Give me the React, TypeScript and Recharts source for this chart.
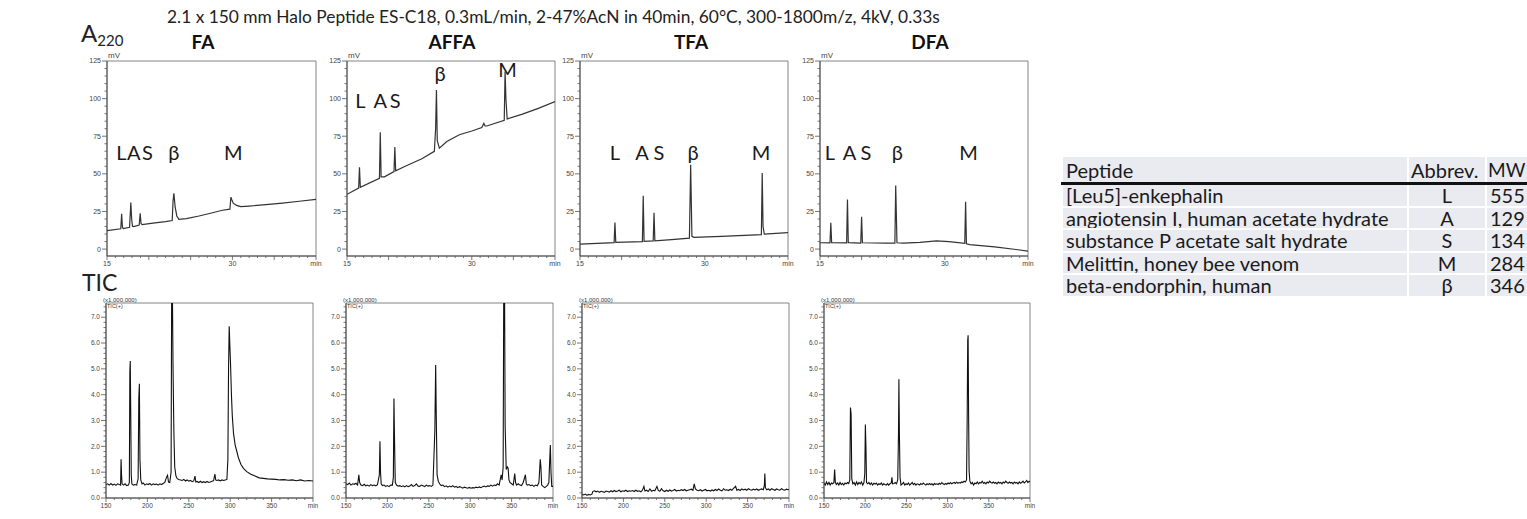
import React from 'react';
import { LineChart, Line, XAxis, YAxis, ReferenceArea, ReferenceDot } from 'recharts';

type Pt = [number, number];

// ---------- A220 UV traces (time in min, signal in mV) ----------
const faUv: Pt[] = [
  [15, 12.2], [16.65, 13.5], [16.75, 23.5], [16.85, 14.5], [16.95, 13.7], [17.7, 14.5], [17.85, 31], [17.95, 20],
  [18.05, 15.2], [18.2, 15.0], [18.85, 16.0], [18.97, 23.8], [19.07, 17.0], [19.2, 16.2], [20.5, 17.2], [22.0, 18.3],
  [22.8, 19.0], [22.9, 32], [23.0, 37], [23.15, 28], [23.35, 22], [23.6, 19.8], [24.5, 20.3], [26.0, 22.0],
  [27.5, 24.0], [28.8, 25.8], [29.7, 26.5], [29.82, 34.5], [29.92, 33], [30.1, 30.5], [30.5, 29], [31.0, 28.2],
  [32.0, 28.6], [34.0, 29.5], [36.0, 30.6], [38.0, 31.8], [40.0, 33.0],
];
const affaUv: Pt[] = [
  [15, 36.4], [16.4, 40.5], [16.5, 54.3], [16.6, 41], [18.9, 47], [19.0, 77.6], [19.1, 48], [19.5, 48],
  [20.65, 51.5], [20.75, 67.8], [20.85, 52], [22.0, 55], [24.0, 60], [25.5, 65], [25.65, 80], [25.75, 105.7],
  [25.85, 72], [26.1, 67], [27.0, 71.5], [28.5, 76], [30.0, 78.5], [31.2, 80.8], [31.45, 83.5], [31.6, 81.8],
  [31.8, 81.8], [33.9, 85.5], [34.0, 118], [34.1, 100], [34.25, 86.5], [36.0, 89.5], [38.0, 93.5], [40.0, 98],
];
const tfaUv: Pt[] = [
  [15, 3.3], [19.1, 4.3], [19.2, 17.7], [19.3, 4.4], [22.5, 5.0], [22.6, 35.5], [22.7, 5.1], [23.8, 5.4],
  [23.9, 24.2], [24.0, 5.5], [26.0, 6.3], [28.15, 7.3], [28.3, 56], [28.45, 8.5], [28.7, 7.8], [32.0, 8.4],
  [36.8, 9.6], [36.9, 50.5], [37.0, 15], [37.15, 9.9], [40, 10.9],
];
const dfaUv: Pt[] = [
  [15, 4.2], [16.2, 4.1], [16.3, 17.5], [16.4, 4.2], [18.2, 4.1], [18.3, 33], [18.4, 4.3], [19.9, 4.0],
  [20.0, 21.5], [20.1, 4.2], [23.0, 4.0], [24.0, 4.0], [24.1, 42.3], [24.25, 4.2], [25.0, 3.9], [27.0, 4.5],
  [29.0, 5.4], [30.5, 5.0], [32.4, 3.8], [32.5, 31.5], [32.6, 3.5], [33.0, 3.0], [36.0, 1.5], [40.0, -1.3],
];

// ---------- TIC traces (x0.1 min, intensity x1,000,000) ----------
const faTic: Pt[] = [
  [150, 0.52], [152, 0.55], [154, 0.5], [156, 0.56], [158, 0.5], [160, 0.54], [162, 0.49], [164, 0.55], [166, 0.52],
  [167.6, 0.5], [168.2, 1.5], [168.8, 0.9], [169.4, 0.55], [171, 0.5], [173, 0.55], [175, 0.48], [177, 0.5],
  [178.2, 0.6], [178.8, 4.9], [179.3, 5.3], [179.9, 3.3], [180.5, 0.9], [181.2, 0.55], [183, 0.5], [185, 0.52],
  [187, 0.5], [188.8, 0.75], [189.6, 3.85], [190.3, 4.42], [191, 1.5], [192, 0.7], [193.5, 0.55], [195, 0.58],
  [197, 0.5], [199, 0.55], [201, 0.52], [203, 0.56], [205, 0.5], [207, 0.55], [209, 0.52], [211, 0.54], [213, 0.5],
  [215, 0.55], [217, 0.52], [219, 0.56], [221, 0.6], [223, 0.8], [224.3, 0.88], [225.5, 0.62], [227, 0.6],
  [228.6, 1.0], [229.3, 8], [230.2, 8], [231, 4.9], [232, 2.5], [233, 1.2], [234.5, 0.85], [236, 0.75], [238, 0.72],
  [240, 0.7], [242, 0.68], [244, 0.72], [246, 0.66], [248, 0.7], [250, 0.65], [252, 0.68], [254, 0.63], [256, 0.66],
  [257.5, 0.85], [258.5, 0.62], [260, 0.64], [262, 0.6], [264, 0.65], [266, 0.6], [268, 0.63], [270, 0.6], [272, 0.64],
  [274, 0.6], [276, 0.62], [278, 0.65], [280, 0.67], [281.5, 0.93], [282.5, 0.7], [284, 0.68], [286, 0.7], [288, 0.66],
  [290, 0.7], [292, 0.68], [294, 0.7], [296, 0.72], [297.2, 1.5], [298, 5.0], [298.8, 6.65], [299.6, 5.9],
  [300.4, 5.2], [301.5, 4.0], [302.5, 3.2], [304, 2.5], [306, 2.05], [308, 1.8], [310, 1.55], [313, 1.3], [316, 1.15],
  [320, 1.02], [325, 0.92], [330, 0.85], [335, 0.78], [340, 0.76], [345, 0.74], [350, 0.73], [355, 0.72], [360, 0.7],
  [365, 0.71], [370, 0.69], [375, 0.7], [380, 0.67], [385, 0.7], [390, 0.66], [395, 0.68], [400, 0.66],
];
const affaTic: Pt[] = [
  [150, 0.55], [152, 0.52], [154, 0.58], [156, 0.5], [158, 0.55], [160, 0.53], [162, 0.57], [164, 0.5], [165.5, 0.9],
  [166.5, 0.6], [168, 0.5], [170, 0.48], [172, 0.53], [174, 0.47], [176, 0.5], [178, 0.46], [180, 0.52], [182, 0.48],
  [184, 0.5], [186, 0.47], [188, 0.52], [190.3, 0.9], [191, 2.2], [191.7, 1.0], [192.5, 0.55], [194, 0.48], [196, 0.5],
  [198, 0.45], [200, 0.48], [202, 0.44], [204, 0.5], [206, 0.5], [207.2, 0.8], [207.9, 3.85], [208.6, 2.3],
  [209.5, 0.6], [211, 0.5], [213, 0.46], [215, 0.48], [217, 0.44], [219, 0.47], [221, 0.43], [223, 0.48], [225, 0.44],
  [227, 0.46], [229, 0.52], [231, 0.45], [233, 0.48], [235, 0.55], [237, 0.46], [239, 0.45], [241, 0.5], [243, 0.47],
  [245, 0.44], [247, 0.5], [249, 0.46], [251, 0.48], [253, 0.45], [255, 0.5], [257.3, 2.6], [258.3, 5.15], [259, 3.2],
  [260, 0.9], [261.5, 0.65], [263, 0.55], [265, 0.48], [267, 0.5], [269, 0.44], [271, 0.47], [273, 0.42], [275, 0.46],
  [277, 0.43], [279, 0.48], [281, 0.42], [283, 0.45], [285, 0.4], [287, 0.44], [289, 0.42], [291, 0.38], [293, 0.42],
  [295, 0.4], [297, 0.38], [299, 0.41], [301, 0.38], [303, 0.4], [305, 0.39], [307, 0.42], [309, 0.4], [311, 0.43],
  [313, 0.4], [315, 0.44], [317, 0.46], [319, 0.43], [321, 0.47], [323, 0.45], [325, 0.5], [327, 0.46], [329, 0.5],
  [331, 0.48], [333, 0.55], [335, 0.5], [337.4, 0.9], [338.5, 0.7], [339.8, 1.2], [340.5, 8], [341.5, 8], [342.2, 2.8],
  [343.5, 1.1], [344.8, 1.2], [345.8, 1.15], [346.8, 0.7], [348, 0.6], [350, 0.55], [352, 0.5], [353.8, 0.95],
  [354.8, 0.6], [356, 0.5], [358, 0.55], [360, 0.5], [362, 0.48], [364, 0.6], [366.7, 0.9], [367.7, 0.55], [369, 0.5],
  [371, 0.52], [373, 0.48], [375, 0.5], [377, 0.45], [379, 0.5], [381, 0.47], [383, 0.6], [384.6, 1.5], [385.4, 1.2],
  [386.3, 0.5], [388, 0.45], [390, 0.4], [392, 0.45], [393.5, 0.5], [395, 0.6], [396.2, 1.6], [396.8, 2.05],
  [397.6, 1.0], [398.5, 0.45], [400, 0.45],
];
const tfaTic: Pt[] = [
  [150, 0.15], [152, 0.12], [154, 0.15], [156, 0.1], [158, 0.14], [160, 0.12], [162, 0.15], [163, 0.25], [165, 0.28],
  [167, 0.24], [169, 0.27], [171, 0.22], [173, 0.26], [175, 0.24], [177, 0.22], [179, 0.27], [181, 0.25], [183, 0.23],
  [185, 0.28], [187, 0.24], [189, 0.29], [191, 0.25], [193, 0.27], [195, 0.3], [197, 0.24], [199, 0.28], [201, 0.26],
  [203, 0.3], [205, 0.25], [207, 0.28], [209, 0.26], [211, 0.29], [213, 0.25], [215, 0.3], [217, 0.26], [219, 0.28],
  [221, 0.24], [223, 0.3], [224.8, 0.45], [226, 0.27], [228, 0.3], [230, 0.25], [232, 0.35], [234, 0.26], [236, 0.3],
  [238, 0.28], [240.5, 0.45], [242, 0.3], [244, 0.26], [246, 0.36], [248, 0.28], [250, 0.25], [252, 0.3], [254, 0.26],
  [256, 0.31], [258, 0.27], [260, 0.29], [262, 0.33], [264, 0.27], [266, 0.3], [268, 0.28], [270, 0.32], [272, 0.29],
  [274, 0.33], [276, 0.28], [278, 0.3], [280, 0.32], [282, 0.34], [284, 0.3], [285.5, 0.55], [287, 0.35], [289, 0.3],
  [291, 0.28], [293, 0.32], [295, 0.27], [297, 0.3], [299, 0.33], [301, 0.28], [303, 0.3], [305, 0.27], [307, 0.31],
  [309, 0.28], [311, 0.33], [313, 0.29], [315, 0.35], [317, 0.3], [319, 0.28], [321, 0.36], [323, 0.3], [325, 0.32],
  [327, 0.29], [329, 0.34], [331, 0.3], [333, 0.37], [335.5, 0.45], [337, 0.3], [339, 0.33], [341, 0.29], [343, 0.35],
  [345, 0.31], [347, 0.34], [349, 0.3], [351, 0.36], [353, 0.32], [355, 0.3], [357, 0.34], [359, 0.31], [361, 0.35],
  [363, 0.3], [365, 0.33], [367, 0.35], [369, 0.32], [370.3, 0.5], [370.8, 0.95], [371.5, 0.4], [373, 0.32],
  [375, 0.35], [377, 0.3], [379, 0.36], [381, 0.33], [383, 0.3], [385, 0.35], [387, 0.32], [389, 0.3], [391, 0.36],
  [393, 0.32], [395, 0.3], [397, 0.34], [399, 0.32], [400, 0.33],
];
const dfaTic: Pt[] = [
  [150, 0.58], [151.5, 0.5], [153, 0.62], [154.5, 0.52], [156, 0.6], [157.5, 0.5], [159, 0.58], [160.5, 0.55],
  [162, 0.6], [162.9, 1.1], [163.8, 0.6], [165, 0.52], [166.5, 0.58], [168, 0.5], [169.5, 0.6], [171, 0.52],
  [172.5, 0.57], [174, 0.5], [175.5, 0.58], [177, 0.55], [178.5, 0.6], [180, 0.56], [181.3, 0.7], [182.1, 3.5],
  [182.9, 3.25], [183.7, 0.75], [185, 0.55], [186.5, 0.6], [188, 0.5], [189.5, 0.62], [191, 0.52], [192.5, 0.6],
  [194, 0.55], [195.5, 0.62], [197, 0.5], [198.5, 0.6], [199.5, 0.95], [200.2, 2.85], [200.9, 2.0], [201.6, 0.6],
  [203, 0.55], [204.5, 0.6], [206, 0.52], [207.5, 0.58], [209, 0.5], [210.5, 0.57], [212, 0.54], [213.5, 0.58],
  [215, 0.5], [216.5, 0.55], [218, 0.52], [219.5, 0.58], [221, 0.5], [222.5, 0.55], [224, 0.52], [225.5, 0.5],
  [227, 0.56], [228.5, 0.5], [230, 0.55], [231.6, 0.58], [232.4, 0.8], [233.2, 0.55], [235, 0.56], [236.5, 0.6],
  [238, 0.55], [239.5, 0.7], [240.4, 2.5], [240.9, 4.6], [241.5, 2.5], [242.3, 0.8], [243.5, 0.5], [245, 0.55],
  [246.5, 0.6], [248, 0.5], [249.5, 0.55], [251, 0.52], [252.5, 0.58], [254, 0.5], [255.5, 0.55], [257, 0.6],
  [258.5, 0.52], [260, 0.57], [261.5, 0.5], [263, 0.55], [264.5, 0.53], [266, 0.5], [267.5, 0.56], [269, 0.52],
  [270.5, 0.58], [272, 0.54], [273.5, 0.5], [275, 0.55], [276.5, 0.52], [278, 0.56], [279.5, 0.52], [281, 0.55],
  [282.5, 0.5], [284, 0.56], [285.5, 0.53], [287, 0.55], [288.5, 0.52], [290, 0.57], [291.5, 0.53], [293, 0.6],
  [294.5, 0.55], [296, 0.52], [297.5, 0.56], [299, 0.53], [300.5, 0.58], [302, 0.55], [303.5, 0.6], [305, 0.55],
  [306.5, 0.58], [308, 0.6], [309.5, 0.56], [311, 0.62], [312.5, 0.57], [314, 0.6], [315.5, 0.58], [317, 0.62],
  [318.5, 0.6], [320, 0.65], [321.5, 0.62], [323, 0.7], [323.8, 3.2], [324.4, 6.1], [324.9, 6.3], [325.5, 3.2],
  [326.1, 1.05], [327, 0.65], [328.5, 0.55], [330, 0.6], [331.5, 0.5], [333, 0.58], [334.5, 0.55], [336, 0.62],
  [337.5, 0.55], [339, 0.6], [340.5, 0.58], [342, 0.65], [343.5, 0.57], [345, 0.6], [346.5, 0.55], [348, 0.62],
  [349.5, 0.58], [351, 0.65], [352.5, 0.6], [354, 0.58], [355.5, 0.62], [357, 0.57], [358.5, 0.6], [360, 0.55],
  [361.5, 0.62], [363, 0.58], [364.5, 0.6], [366, 0.55], [367.5, 0.62], [369, 0.58], [370.5, 0.65], [372, 0.6],
  [373.5, 0.57], [375, 0.62], [376.5, 0.58], [378, 0.6], [379.5, 0.55], [381, 0.62], [382.5, 0.58], [384, 0.6],
  [385.5, 0.55], [387, 0.62], [388.5, 0.57], [390, 0.6], [391.5, 0.65], [393, 0.58], [394.5, 0.62], [396, 0.68],
  [397.5, 0.6], [399, 0.65], [400, 0.62],
];

// ---------- ticks ----------
const uvXTicks = [15, 16, 17, 18, 19, 20, 21, 22, 23, 24, 25, 26, 27, 28, 29, 30, 31, 32, 33, 34, 35, 36, 37, 38, 39, 40];
const uvXLabels: Record<number, string> = { 15: '15', 30: '30', 40: 'min' };
const uvYTicks = [0, 5, 10, 15, 20, 25, 30, 35, 40, 45, 50, 55, 60, 65, 70, 75, 80, 85, 90, 95, 100, 105, 110, 115, 120, 125];
const uvYLabels: Record<number, string> = { 0: '0', 25: '25', 50: '50', 75: '75', 100: '100', 125: '125' };
const ticXTicks = [150, 160, 170, 180, 190, 200, 210, 220, 230, 240, 250, 260, 270, 280, 290, 300, 310, 320, 330, 340, 350, 360, 370, 380, 390, 400];
const ticXLabels: Record<number, string> = { 150: '150', 200: '200', 250: '250', 300: '300', 350: '350', 400: 'min' };
const ticYTicks = [0, 0.2, 0.4, 0.6, 0.8, 1, 1.2, 1.4, 1.6, 1.8, 2, 2.2, 2.4, 2.6, 2.8, 3, 3.2, 3.4, 3.6, 3.8, 4, 4.2, 4.4, 4.6, 4.8, 5, 5.2, 5.4, 5.6, 5.8, 6, 6.2, 6.4, 6.6, 6.8, 7, 7.2, 7.4];
const ticYLabels: Record<number, string> = { 0: '0.0', 1: '1.0', 2: '2.0', 3: '3.0', 4: '4.0', 5: '5.0', 6: '6.0', 7: '7.0' };

// ---------- peak annotations ----------
type PeakLabel = { t: number; v: number; s: string };
const faPeaks: PeakLabel[] = [
  { t: 16.72, v: 64, s: 'L' }, { t: 18.2, v: 64, s: 'A' }, { t: 19.85, v: 64, s: 'S' }, { t: 23.0, v: 64, s: 'β' }, { t: 30.1, v: 64, s: 'M' },
];
const affaPeaks: PeakLabel[] = [
  { t: 16.6, v: 98.4, s: 'L' }, { t: 19.0, v: 98.4, s: 'A' }, { t: 20.8, v: 98.4, s: 'S' }, { t: 26.2, v: 116.3, s: 'β' }, { t: 34.3, v: 119, s: 'M' },
];
const tfaPeaks: PeakLabel[] = [
  { t: 19.2, v: 64, s: 'L' }, { t: 22.45, v: 64, s: 'A' }, { t: 24.5, v: 64, s: 'S' }, { t: 28.6, v: 64, s: 'β' }, { t: 36.76, v: 64, s: 'M' },
];
const dfaPeaks: PeakLabel[] = [
  { t: 16.2, v: 64, s: 'L' }, { t: 18.56, v: 64, s: 'A' }, { t: 20.52, v: 64, s: 'S' }, { t: 24.3, v: 64, s: 'β' }, { t: 32.84, v: 64, s: 'M' },
];

const modifiers = ['FA', 'AFFA', 'TFA', 'DFA'];
const titleText = '2.1 x 150 mm Halo Peptide ES-C18, 0.3mL/min, 2-47%AcN in 40min, 60°C, 300-1800m/z, 4kV, 0.33s';

// ---------- table ----------
const tableHeader = ['Peptide', 'Abbrev.', 'MW'];
const peptideNames = ['[Leu5]-enkephalin', 'angiotensin I, human acetate hydrate', 'substance P acetate salt hydrate', 'Melittin,  honey bee venom', 'beta-endorphin, human'];
const peptideAbbrevs = ['L', 'A', 'S', 'M', 'β'];
const peptideMw = ['555', '129', '134', '284', '346'];

const CAL = "Lato, 'Open Sans', sans-serif";
const AX = "'Liberation Sans', Arial, sans-serif";
const AX_COLOR = '#555';

const isMajor = (v: number, every: number) => Math.abs(v / every - Math.round(v / every)) < 1e-6;

function makeXTick(labels: Record<number, string>, every: number, fs: number) {
  return (props: any) => {
    const { x, y, payload } = props;
    const v = payload.value as number;
    const major = isMajor(v, every);
    const lbl = labels[v];
    return (
      <g>
        <line x1={x} x2={x} y1={y} y2={y + (major ? 4 : 2)} stroke={AX_COLOR} strokeWidth={0.8} />
        {lbl !== undefined && (
          <text x={x} y={y + 5} dy="0.71em" textAnchor="middle" fontSize={fs} fill="#444" fontFamily={AX}>{lbl}</text>
        )}
      </g>
    );
  };
}
function makeYTick(labels: Record<number, string>, every: number, fs: number) {
  return (props: any) => {
    const { x, y, payload } = props;
    const v = payload.value as number;
    const major = isMajor(v, every);
    const key = Object.keys(labels).find((k) => Math.abs(Number(k) - v) < 1e-6);
    const lbl = key !== undefined ? labels[Number(key)] : undefined;
    return (
      <g>
        <line x1={x} x2={x - (major ? 5 : 2.5)} y1={y} y2={y} stroke={AX_COLOR} strokeWidth={0.8} />
        {lbl !== undefined && (
          <text x={x - 6} y={y} dy="0.35em" textAnchor="end" fontSize={fs} fill="#444" fontFamily={AX}>{lbl}</text>
        )}
      </g>
    );
  };
}

type PanelProps = {
  left: number; top: number; plotW: number; plotH: number; pts: Pt[];
  xDomain: [number, number]; yDomain: [number, number];
  xTicks: number[]; yTicks: number[]; xLabels: Record<number, string>; yLabels: Record<number, string>;
  xEvery: number; yEvery: number; fs: number; peaks?: PeakLabel[]; tic?: boolean;
};

function Panel(p: PanelProps) {
  const data = p.pts.map(([t, v]) => ({ t, v }));
  const W = 40 + p.plotW + 10;
  const H = 20 + p.plotH + 20;
  return (
    <div style={{ position: 'absolute', left: p.left - 40, top: p.top - 20, width: W, height: H }}>
      <LineChart width={W} height={H} data={data} margin={{ top: 20, right: 10, bottom: 0, left: 10 }}>
        <XAxis dataKey="t" type="number" domain={p.xDomain} ticks={p.xTicks} interval={0} tickSize={0} tickMargin={0}
          tickLine={false} height={20} axisLine={{ stroke: '#444', strokeWidth: 0.9 }} tick={makeXTick(p.xLabels, p.xEvery, p.fs)} allowDataOverflow />
        <YAxis type="number" domain={p.yDomain} ticks={p.yTicks} interval={0} tickSize={0} tickMargin={0}
          tickLine={false} width={30} axisLine={{ stroke: '#444', strokeWidth: 0.9 }} tick={makeYTick(p.yLabels, p.yEvery, p.fs)} allowDataOverflow />
        <ReferenceArea x1={p.xDomain[0]} x2={p.xDomain[1]} y1={p.yDomain[0]} y2={p.yDomain[1]} fill="none" stroke="#777" strokeWidth={0.9} fillOpacity={0} />
        <Line type="linear" dataKey="v" stroke={p.tic ? '#111' : '#333'} strokeWidth={p.tic ? 1.1 : 1.2} dot={false} isAnimationActive={false} />
        {(p.peaks || []).map((pk, i) => (
          <ReferenceDot key={i} x={pk.t} y={pk.v} r={0} fill="none" stroke="none"
            shape={(sp: any) => (
              <text x={sp.cx} y={sp.cy} dy="0.36em" textAnchor="middle" fontSize={20} fill="#1a1a1a" fontFamily={CAL}>{pk.s}</text>
            )} />
        ))}
      </LineChart>
      {p.tic ? (
        <>
          <div style={{ position: 'absolute', left: 37, top: 14, fontSize: 6, fontFamily: AX, color: '#333', lineHeight: '6px', whiteSpace: 'nowrap' }}>(x1,000,000)</div>
          <div style={{ position: 'absolute', left: 41, top: 20, fontSize: 5.5, fontFamily: AX, color: '#333', lineHeight: '6px', whiteSpace: 'nowrap' }}>TIC(+)</div>
        </>
      ) : (
        <div style={{ position: 'absolute', left: 41, top: 11, fontSize: 8, fontFamily: AX, color: '#444', lineHeight: '8px' }}>mV</div>
      )}
    </div>
  );
}

const uvLefts = [107, 347, 580, 820];
const uvWidths = [209, 208, 208, 208];
const ticLefts = [106, 346, 582, 824];
const ticWidths = [207, 207, 207, 206];
const headerCenters = [203, 452, 691, 930];

export default function App() {
  const uvSets = [faUv, affaUv, tfaUv, dfaUv];
  const ticSets = [faTic, affaTic, tfaTic, dfaTic];
  const peakSets = [faPeaks, affaPeaks, tfaPeaks, dfaPeaks];
  const cellBg = '#e9ebf0';
  const td: React.CSSProperties = { background: cellBg, padding: 0, border: '2px solid #fff', height: 20.5, lineHeight: '20px', whiteSpace: 'nowrap', overflow: 'hidden' };
  return (
    <div style={{ position: 'absolute', left: 0, top: 0, width: 1527, height: 519, overflow: 'hidden', background: '#fff' }}>
      <div style={{ position: 'absolute', left: 167, top: 7, fontFamily: CAL, fontSize: 17.35, lineHeight: '20px', color: '#222', whiteSpace: 'nowrap' }}>{titleText}</div>
      <div style={{ position: 'absolute', left: 81, top: 20, fontFamily: CAL, fontSize: 24, lineHeight: '26px', color: '#222', whiteSpace: 'nowrap' }}>
        A<span style={{ fontSize: 15, position: 'relative', top: 4 }}>220</span>
      </div>
      {modifiers.map((m, i) => (
        <div key={m} style={{ position: 'absolute', left: headerCenters[i] - 60, width: 120, top: 31, textAlign: 'center', fontFamily: CAL, fontWeight: 700, fontSize: 19, lineHeight: '22px', color: '#111' }}>{m}</div>
      ))}
      <div style={{ position: 'absolute', left: 82, top: 269, fontFamily: CAL, fontSize: 23, lineHeight: '26px', color: '#222' }}>TIC</div>

      {uvSets.map((pts, i) => (
        <Panel key={'uv' + i} left={uvLefts[i]} top={61} plotW={uvWidths[i]} plotH={195} pts={pts}
          xDomain={[15, 40]} yDomain={[-4.6, 125]} xTicks={uvXTicks} yTicks={uvYTicks} xLabels={uvXLabels} yLabels={uvYLabels}
          xEvery={5} yEvery={25} fs={7} peaks={peakSets[i]} />
      ))}
      {ticSets.map((pts, i) => (
        <Panel key={'tic' + i} left={ticLefts[i]} top={303} plotW={ticWidths[i]} plotH={195} pts={pts}
          xDomain={[150, 400]} yDomain={[0, 7.55]} xTicks={ticXTicks} yTicks={ticYTicks} xLabels={ticXLabels} yLabels={ticYLabels}
          xEvery={50} yEvery={1} fs={6.5} tic />
      ))}

      <table style={{ position: 'absolute', left: 1061, top: 155, width: 520, tableLayout: 'fixed', borderCollapse: 'collapse', fontFamily: CAL, fontSize: 20, color: '#1a1a1a' }}>
        <colgroup>
          <col style={{ width: 346 }} />
          <col style={{ width: 78 }} />
          <col style={{ width: 96 }} />
        </colgroup>
        <thead>
          <tr>
            <td style={{ ...td, paddingLeft: 3, height: 25, borderBottom: '3px solid #111' }}>{tableHeader[0]}</td>
            <td style={{ ...td, paddingLeft: 2, height: 25, borderBottom: '3px solid #111' }}>{tableHeader[1]}</td>
            <td style={{ ...td, paddingLeft: 1, height: 25, borderBottom: '3px solid #111', fontSize: 19 }}>{tableHeader[2]}</td>
          </tr>
        </thead>
        <tbody>
          {peptideNames.map((n, i) => (
            <tr key={n}>
              <td style={{ ...td, paddingLeft: 3 }}>{n}</td>
              <td style={{ ...td, textAlign: 'center' }}>{peptideAbbrevs[i]}</td>
              <td style={{ ...td, paddingLeft: 3 }}>{peptideMw[i]}</td>
            </tr>
          ))}
        </tbody>
      </table>
    </div>
  );
}
